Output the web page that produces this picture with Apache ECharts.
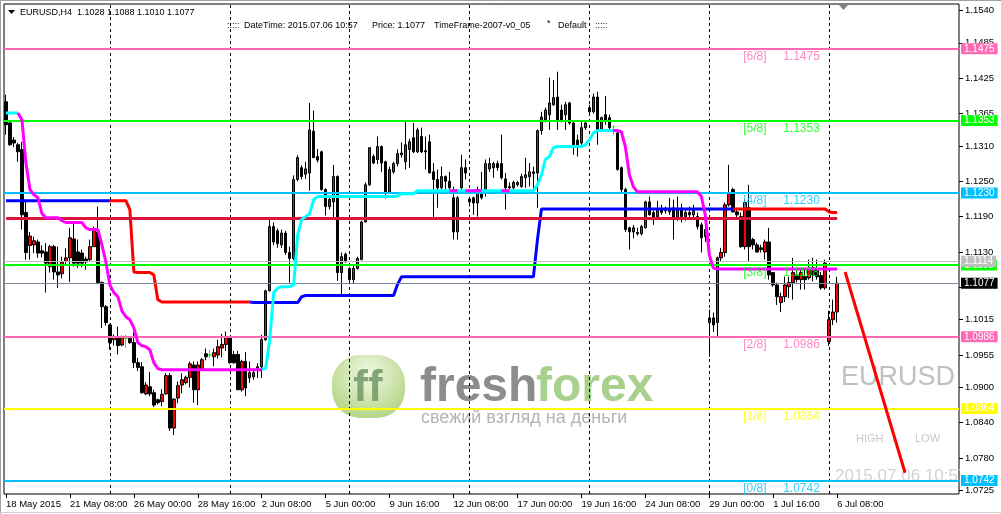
<!DOCTYPE html>
<html><head><meta charset="utf-8">
<script src="https://cdn.jsdelivr.net/npm/echarts@6/dist/echarts.min.js"></script>
<style>html,body{margin:0;padding:0;background:#fff;}#c{width:1001px;height:514px;}</style>
</head><body><div id="c"></div>
<script>
// ---------- DATA ----------
const barOpen = [
1.1385,1.1349,1.1320,1.1312,1.1304,1.1197,1.1141,1.1142,1.1147,1.1132,
1.1130,1.1105,1.1139,1.1096,1.1093,1.1114,1.1120,1.1152,1.1130,1.1128,
1.1118,1.1117,1.1139,1.1164,1.1078,1.1037,1.1006,1.0981,1.0985,1.0972,
1.0983,1.0983,1.0976,1.0942,1.0935,1.0889,1.0901,1.0891,1.0879,1.0876,
1.0889,1.0920,1.0831,1.0882,1.0904,1.0908,1.0917,1.0938,1.0896,1.0930,
1.0957,1.0955,1.0952,1.0955,1.0967,1.0973,1.0984,1.0956,1.0956,1.0896,
1.0944,1.0916,1.0918,1.0933,1.0935,1.0981,1.1064,1.1173,1.1166,1.1142,
1.1162,1.1129,1.1119,1.1253,1.1273,1.1262,1.1264,1.1335,1.1292,1.1300,
1.1236,1.1207,1.1215,1.1258,1.1095,1.1126,1.1102,1.1083,1.1102,1.1117,
1.1181,1.1244,1.1292,1.1287,1.1309,1.1283,1.1232,1.1266,1.1280,1.1295,
1.1283,1.1304,1.1324,1.1300,1.1326,1.1302,1.1317,1.1266,1.1253,1.1239,
1.1258,1.1250,1.1222,1.1164,1.1239,1.1273,1.1220,1.1222,1.1213,1.1236,
1.1236,1.1271,1.1273,1.1280,1.1280,1.1254,1.1239,1.1239,1.1244,1.1241,
1.1256,1.1258,1.1263,1.1264,1.1336,1.1354,1.1363,1.1380,1.1393,1.1371,
1.1363,1.1383,1.1349,1.1320,1.1315,1.1341,1.1375,1.1368,1.1393,1.1337,
1.1363,1.1358,1.1342,1.1332,1.1273,1.1236,1.1171,1.1164,1.1163,1.1161,
1.1171,1.1215,1.1197,1.1190,1.1202,1.1204,1.1198,1.1205,1.1185,1.1204,
1.1190,1.1197,1.1193,1.1190,1.1176,1.1156,1.1010,1.1018,1.1010,1.1120,
1.1129,1.1210,1.1236,1.1198,1.1190,1.1139,1.1205,1.1151,1.1142,1.1137,
1.1130,1.1147,1.1095,1.1074,1.1044,1.1054,1.1071,1.1078,1.1091,1.1083,
1.1088,1.1086,1.1103,1.1100,1.1090,1.1069,1.0978,1.1015,1.1028];
const barHigh = [
1.1397,1.1352,1.1325,1.1315,1.1317,1.1219,1.1164,1.1156,1.1151,1.1141,
1.1145,1.1142,1.1142,1.1139,1.1122,1.1136,1.1171,1.1179,1.1151,1.1134,
1.1122,1.1151,1.1173,1.1207,1.1080,1.1040,1.1008,1.0990,1.1003,1.0988,
1.0989,1.0985,1.0993,1.0950,1.0943,1.0909,1.0926,1.0896,1.0881,1.0897,
1.0924,1.0924,1.0882,1.0910,1.0924,1.0920,1.0944,1.0944,1.0944,1.0950,
1.0966,1.0964,1.0966,1.0981,1.0991,1.0995,1.0987,1.0962,1.0962,1.0947,
1.0960,1.0944,1.0930,1.0941,1.0989,1.1066,1.1187,1.1180,1.1170,1.1168,
1.1166,1.1139,1.1260,1.1294,1.1277,1.1283,1.1383,1.1370,1.1305,1.1302,
1.1238,1.1224,1.1278,1.1260,1.1129,1.1129,1.1104,1.1106,1.1122,1.1183,
1.1248,1.1308,1.1296,1.1326,1.1311,1.1285,1.1275,1.1283,1.1304,1.1316,
1.1354,1.1322,1.1349,1.1341,1.1341,1.1326,1.1329,1.1281,1.1270,1.1275,
1.1260,1.1266,1.1241,1.1225,1.1295,1.1287,1.1224,1.1224,1.1241,1.1266,
1.1287,1.1290,1.1283,1.1285,1.1329,1.1264,1.1248,1.1251,1.1250,1.1263,
1.1290,1.1281,1.1275,1.1338,1.1368,1.1375,1.1426,1.1422,1.1436,1.1380,
1.1385,1.1385,1.1351,1.1329,1.1351,1.1351,1.1380,1.1399,1.1402,1.1360,
1.1395,1.1363,1.1345,1.1336,1.1275,1.1239,1.1173,1.1176,1.1171,1.1176,
1.1217,1.1224,1.1200,1.1217,1.1210,1.1207,1.1222,1.1219,1.1224,1.1212,
1.1204,1.1207,1.1210,1.1197,1.1180,1.1171,1.1032,1.1027,1.1122,1.1137,
1.1214,1.1278,1.1239,1.1205,1.1197,1.1219,1.1244,1.1154,1.1146,1.1142,
1.1151,1.1171,1.1096,1.1078,1.1061,1.1088,1.1088,1.1120,1.1103,1.1103,
1.1100,1.1117,1.1120,1.1117,1.1096,1.1117,1.1030,1.1049,1.1088];
const barLow = [
1.1329,1.1310,1.1308,1.1283,1.1168,1.1117,1.1117,1.1128,1.1120,1.1121,
1.1061,1.1095,1.1083,1.1069,1.1085,1.1109,1.1079,1.1105,1.1103,1.1104,
1.1100,1.1113,1.1139,1.1075,1.1001,1.1005,1.0964,1.0971,1.0956,1.0970,
1.0967,1.0974,1.0933,1.0928,1.0889,1.0887,1.0885,1.0867,1.0871,1.0868,
1.0888,1.0826,1.0819,1.0873,1.0890,1.0905,1.0900,1.0874,1.0870,1.0928,
1.0946,1.0950,1.0936,1.0949,1.0951,1.0962,1.0940,1.0940,1.0896,1.0893,
1.0885,1.0908,1.0913,1.0916,1.0916,1.0979,1.1063,1.1142,1.1137,1.1137,
1.1125,1.1078,1.1116,1.1250,1.1253,1.1254,1.1234,1.1290,1.1282,1.1234,
1.1192,1.1202,1.1185,1.1081,1.1054,1.1112,1.1075,1.1077,1.1100,1.1116,
1.1180,1.1242,1.1279,1.1279,1.1266,1.1221,1.1229,1.1263,1.1275,1.1290,
1.1270,1.1273,1.1298,1.1298,1.1298,1.1270,1.1264,1.1188,1.1205,1.1236,
1.1236,1.1236,1.1151,1.1151,1.1230,1.1253,1.1207,1.1193,1.1190,1.1219,
1.1224,1.1266,1.1256,1.1268,1.1253,1.1202,1.1236,1.1236,1.1241,1.1239,
1.1239,1.1241,1.1236,1.1205,1.1329,1.1350,1.1337,1.1378,1.1337,1.1350,
1.1337,1.1346,1.1295,1.1292,1.1312,1.1337,1.1363,1.1365,1.1312,1.1334,
1.1346,1.1337,1.1329,1.1268,1.1232,1.1164,1.1134,1.1153,1.1158,1.1158,
1.1170,1.1192,1.1176,1.1185,1.1193,1.1195,1.1193,1.1151,1.1183,1.1180,
1.1183,1.1188,1.1185,1.1168,1.1129,1.1147,1.0952,1.0994,1.0985,1.1113,
1.1122,1.1207,1.1197,1.1188,1.1137,1.1134,1.1113,1.1134,1.1129,1.1129,
1.1117,1.1083,1.1071,1.1040,1.1028,1.1045,1.1052,1.1049,1.1078,1.1066,
1.1066,1.1083,1.1080,1.1083,1.1066,1.1066,1.0970,1.1006,1.1010];
const barClose = [
1.1346,1.1312,1.1315,1.1300,1.1193,1.1129,1.1157,1.1149,1.1128,1.1128,
1.1111,1.1139,1.1096,1.1091,1.1113,1.1120,1.1154,1.1111,1.1111,1.1111,
1.1113,1.1139,1.1168,1.1078,1.1037,1.1010,1.0976,1.0986,1.0971,1.0985,
1.0983,1.0976,1.0942,1.0934,1.0891,1.0904,1.0889,1.0870,1.0874,1.0888,
1.0920,1.0831,1.0880,1.0903,1.0913,1.0917,1.0940,1.0896,1.0938,1.0947,
1.0952,1.0955,1.0959,1.0969,1.0973,1.0986,1.0942,1.0942,1.0896,1.0944,
1.0899,1.0925,1.0925,1.0935,1.0981,1.1064,1.1173,1.1147,1.1144,1.1162,
1.1129,1.1119,1.1253,1.1290,1.1258,1.1271,1.1337,1.1290,1.1286,1.1236,
1.1207,1.1219,1.1258,1.1095,1.1122,1.1113,1.1083,1.1102,1.1119,1.1181,
1.1244,1.1307,1.1281,1.1309,1.1281,1.1232,1.1270,1.1280,1.1297,1.1298,
1.1312,1.1317,1.1300,1.1337,1.1300,1.1300,1.1264,1.1253,1.1239,1.1258,
1.1250,1.1239,1.1164,1.1222,1.1273,1.1264,1.1215,1.1213,1.1236,1.1222,
1.1280,1.1280,1.1280,1.1273,1.1256,1.1239,1.1241,1.1248,1.1248,1.1258,
1.1261,1.1266,1.1266,1.1336,1.1359,1.1371,1.1383,1.1392,1.1354,1.1354,
1.1380,1.1349,1.1312,1.1312,1.1341,1.1349,1.1368,1.1393,1.1337,1.1358,
1.1354,1.1341,1.1342,1.1270,1.1236,1.1168,1.1164,1.1171,1.1161,1.1173,
1.1215,1.1193,1.1185,1.1202,1.1197,1.1200,1.1204,1.1185,1.1202,1.1190,
1.1197,1.1193,1.1200,1.1173,1.1154,1.1168,1.1018,1.1006,1.1120,1.1129,
1.1210,1.1229,1.1198,1.1193,1.1139,1.1214,1.1139,1.1142,1.1130,1.1134,
1.1147,1.1091,1.1074,1.1054,1.1054,1.1074,1.1078,1.1095,1.1083,1.1095,
1.1083,1.1100,1.1091,1.1088,1.1069,1.1111,1.1015,1.1028,1.1077];

// trend indicator (magenta while falling, cyan while rising)
const trendLine = [
1.1366,1.1366,1.1366,1.1366,1.1354,1.1280,1.1236,1.1227,1.1222,1.1195,
1.1188,1.1188,1.1188,1.1188,1.1183,1.1180,1.1180,1.1180,1.1180,1.1180,
1.1171,1.1168,1.1168,1.1168,1.1142,1.1113,1.1074,1.1061,1.1054,1.1030,
1.1020,1.1015,1.1001,1.0976,1.0971,1.0969,1.0964,1.0942,1.0932,1.0930,
1.0930,1.0930,1.0930,1.0930,1.0930,1.0930,1.0930,1.0930,1.0930,1.0930,
1.0930,1.0930,1.0930,1.0930,1.0930,1.0930,1.0930,1.0930,1.0930,1.0930,
1.0930,1.0930,1.0930,1.0930,1.0930,1.0933,1.0981,1.1061,1.1069,1.1071,
1.1071,1.1071,1.1074,1.1159,1.1185,1.1190,1.1195,1.1219,1.1224,1.1224,
1.1224,1.1224,1.1224,1.1224,1.1224,1.1224,1.1224,1.1224,1.1224,1.1224,
1.1224,1.1224,1.1224,1.1224,1.1224,1.1224,1.1224,1.1224,1.1225,1.1229,
1.1229,1.1229,1.1229,1.1234,1.1234,1.1234,1.1234,1.1234,1.1234,1.1234,
1.1234,1.1234,1.1234,1.1234,1.1234,1.1234,1.1234,1.1234,1.1234,1.1234,
1.1234,1.1234,1.1234,1.1234,1.1234,1.1234,1.1234,1.1234,1.1234,1.1234,
1.1234,1.1234,1.1234,1.1244,1.1261,1.1287,1.1292,1.1307,1.1309,1.1309,
1.1309,1.1309,1.1309,1.1309,1.1309,1.1312,1.1320,1.1332,1.1336,1.1336,
1.1336,1.1336,1.1336,1.1336,1.1334,1.1309,1.1261,1.1241,1.1232,1.1232,
1.1232,1.1232,1.1232,1.1232,1.1232,1.1232,1.1232,1.1232,1.1232,1.1232,
1.1232,1.1232,1.1232,1.1232,1.1225,1.1193,1.1125,1.1103,1.1101,1.1101,
1.1101,1.1101,1.1101,1.1101,1.1101,1.1101,1.1101,1.1101,1.1101,1.1101,
1.1101,1.1101,1.1101,1.1101,1.1101,1.1101,1.1101,1.1101,1.1101,1.1101,
1.1101,1.1101,1.1101,1.1101,1.1101,1.1101,1.1101,1.1101,1.1101];
const trendUpRuns = [[0,3],[64,152]];
const trendDownRuns = [[3,64],[111,113],[115,119],[124,126],[152,208]];

// step indicator (blue while rising, red while falling)
const stepLine = [
1.1217,1.1217,1.1217,1.1217,1.1217,1.1217,1.1217,1.1217,1.1217,1.1217,
1.1217,1.1217,1.1217,1.1217,1.1217,1.1217,1.1217,1.1217,1.1217,1.1217,
1.1217,1.1217,1.1217,1.1217,1.1217,1.1217,1.1217,1.1217,1.1217,1.1217,
1.1217,1.1202,1.1096,1.1095,1.1095,1.1095,1.1095,1.1091,1.1049,1.1045,
1.1045,1.1045,1.1045,1.1045,1.1045,1.1045,1.1045,1.1045,1.1045,1.1045,
1.1045,1.1045,1.1045,1.1045,1.1045,1.1045,1.1045,1.1045,1.1045,1.1045,
1.1045,1.1045,1.1044,1.1044,1.1044,1.1044,1.1044,1.1044,1.1044,1.1044,
1.1044,1.1044,1.1044,1.1044,1.1054,1.1056,1.1056,1.1056,1.1056,1.1056,
1.1056,1.1056,1.1056,1.1056,1.1056,1.1056,1.1056,1.1056,1.1056,1.1056,
1.1056,1.1056,1.1056,1.1056,1.1056,1.1056,1.1056,1.1056,1.1075,1.1088,
1.1088,1.1088,1.1088,1.1088,1.1088,1.1088,1.1088,1.1088,1.1088,1.1088,
1.1088,1.1088,1.1088,1.1088,1.1088,1.1088,1.1088,1.1088,1.1088,1.1088,
1.1088,1.1088,1.1088,1.1088,1.1088,1.1088,1.1088,1.1088,1.1088,1.1088,
1.1088,1.1088,1.1088,1.1151,1.1203,1.1203,1.1203,1.1203,1.1203,1.1203,
1.1203,1.1203,1.1203,1.1203,1.1203,1.1203,1.1203,1.1203,1.1203,1.1203,
1.1203,1.1203,1.1203,1.1203,1.1203,1.1203,1.1203,1.1203,1.1203,1.1203,
1.1203,1.1203,1.1203,1.1203,1.1203,1.1203,1.1203,1.1203,1.1203,1.1203,
1.1203,1.1203,1.1203,1.1203,1.1203,1.1203,1.1203,1.1203,1.1203,1.1203,
1.1203,1.1203,1.1203,1.1203,1.1203,1.1203,1.1203,1.1203,1.1203,1.1203,
1.1203,1.1203,1.1203,1.1203,1.1203,1.1203,1.1203,1.1203,1.1203,1.1203,
1.1203,1.1203,1.1203,1.1203,1.1203,1.1203,1.1198,1.1197,1.1197];
const stepUpRuns = [[0,26],[61,182]];
const stepDownRuns = [[26,61],[182,208]];

const crimsonLevel = 1.1188;
const projection = [[210, 1.1096], [225, 1.0755]];

const murreyLevels = [1.1475, 1.1353, 1.1230, 1.1108, 1.0986, 1.0864, 1.0742];
const murreyNames  = ['[6/8]','[5/8]','[4/8]','[3/8]','[2/8]','[1/8]','[0/8]'];
const murreyColors = ['#FF69B4','#00FF00','#00BFFF','#00FF00','#FF69B4','#FFFF00','#00BFFF'];
const highLevel = 1.1114;
const lastPrice = 1.1077;

const weekSeparators = [26, 56, 86, 116, 146, 176, 206];
const timeLabels = ['18 May 2015','21 May 08:00','26 May 00:00','28 May 16:00','2 Jun 08:00','5 Jun 00:00',
  '9 Jun 16:00','12 Jun 08:00','17 Jun 00:00','19 Jun 16:00','24 Jun 08:00','29 Jun 00:00','1 Jul 16:00','6 Jul 08:00'];
const timeLabelIdx = [0,16,32,48,64,80,96,112,128,144,160,176,192,208];
const priceTicks = [1.1540,1.1485,1.1425,1.1365,1.1310,1.1250,1.1190,1.1130,1.1070,1.1015,1.0955,1.0900,1.0840,1.0780,1.0725];
const priceLabels = [1.1540,1.1485,1.1425,1.1365,1.1310,1.1250,1.1190,1.1130,1.1015,1.0955,1.0900,1.0840,1.0780,1.0725];

// ---------- BUILD ----------
const SLOTS = 239;
const cats = Array.from({length: SLOTS}, (_, i) => String(i));
const candles = barOpen.map((o, i) => [o, barClose[i], barLow[i], barHigh[i]]);
function pick(values, runs) {
  const out = values.map(() => null);
  runs.forEach(([a, b]) => { for (let i = a; i <= b; i++) out[i] = values[i]; });
  return out;
}
const FONT = 'Liberation Sans, Arial, sans-serif';

const tagLabel = (txt, bg) => ({show: true, position: 'end', distance: 2, formatter: txt,
  backgroundColor: bg, color: '#fff', fontSize: 10, fontFamily: FONT, lineHeight: 10, padding: [1, 3, 0, 3]});

const murreyLines = murreyLevels.map((v, k) => ({
  yAxis: v, lineStyle: {color: murreyColors[k], width: 2, type: 'solid'},
  label: tagLabel(v.toFixed(4), murreyColors[k])
}));
const murreyText = [];
murreyLevels.forEach((v, k) => {
  murreyText.push({value: [184, v], label: {formatter: murreyNames[k], color: murreyColors[k]}});
  murreyText.push({value: [194, v], label: {formatter: v.toFixed(4), color: murreyColors[k]}});
});

const chart = echarts.init(document.getElementById('c'), null, {renderer: 'canvas'});
chart.setOption({
  animation: false,
  backgroundColor: '#fff',
  grid: {left: 4, top: 4, width: 955, height: 490, show: true, borderColor: '#000', borderWidth: 1},
  xAxis: {
    type: 'category', data: cats, boundaryGap: true,
    axisLine: {show: false},
    axisTick: {show: true, alignWithLabel: true, length: 4, interval: (i) => timeLabelIdx.includes(i), lineStyle: {color: '#000'}},
    axisLabel: {interval: (i) => timeLabelIdx.includes(i), formatter: (v, i) => timeLabels[timeLabelIdx.indexOf(i)] || '',
      align: 'left', margin: 5, fontSize: 9.5, fontFamily: FONT, color: '#000'},
    splitLine: {show: false}
  },
  yAxis: {
    type: 'value', position: 'right', min: 1.0719, max: 1.1551,
    splitLine: {show: false}, axisLine: {show: false},
    axisTick: {show: true, customValues: priceTicks, length: 4, lineStyle: {color: '#000'}},
    axisLabel: {customValues: priceLabels, formatter: (v) => v.toFixed(4), fontSize: 9.5, fontFamily: FONT, color: '#000', margin: 6}
  },
  series: [
    {type: 'candlestick', data: candles, barWidth: 3, z: 2, silent: true,
     itemStyle: {color: '#FF0000', color0: '#000000', borderColor: '#000000', borderColor0: '#000000', borderColorDoji: '#00FF00', borderWidth: 1}},
    {type: 'line', data: [], z: 3, silent: true,
     markLine: {silent: true, symbol: ['none', 'none'], animation: false, precision: 4,
       data: [
         ...weekSeparators.map(x => ({xAxis: x, lineStyle: {color: '#000', width: 1, type: [3, 3]}, label: {show: false}})),
         ...murreyLines,
         {yAxis: highLevel, lineStyle: {color: '#C0C0C0', width: 1, type: 'solid'}, label: tagLabel(highLevel.toFixed(4), '#C0C0C0')},
         {yAxis: lastPrice, lineStyle: {color: '#778899', width: 1, type: 'solid'}, label: tagLabel(lastPrice.toFixed(4), '#000000')},
         [{coord: [0, crimsonLevel], lineStyle: {color: '#DC143C', width: 3, type: 'solid'}, label: {show: false}}, {coord: [208, crimsonLevel]}]
       ]}},
    {type: 'line', data: pick(stepLine, stepUpRuns), z: 4, silent: true, symbol: 'none', lineStyle: {color: '#0000FF', width: 3}},
    {type: 'line', data: pick(stepLine, stepDownRuns), z: 4, silent: true, symbol: 'none', lineStyle: {color: '#FF0000', width: 3}},
    {type: 'line', data: pick(trendLine, trendUpRuns), z: 5, silent: true, symbol: 'none', lineStyle: {color: '#00FFFF', width: 3}},
    {type: 'line', data: pick(trendLine, trendDownRuns), z: 5, silent: true, symbol: 'none', lineStyle: {color: '#FF00FF', width: 3}},
    {type: 'line', data: projection, z: 5, silent: true, symbol: 'none', clip: false, lineStyle: {color: '#FF0000', width: 3}},
    {type: 'scatter', data: murreyText, z: 6, silent: true, symbolSize: 0.1, itemStyle: {color: 'rgba(0,0,0,0)'},
     label: {show: true, position: [2, 2], align: 'left', verticalAlign: 'top', fontSize: 12, fontFamily: FONT}}
  ],
  graphic: [
    {type: 'line', shape: {x1: 0.5, y1: 0, x2: 0.5, y2: 514}, style: {stroke: '#a0a0a0', lineWidth: 1}},
    {type: 'line', shape: {x1: 0, y1: 0.5, x2: 1001, y2: 0.5}, style: {stroke: '#a0a0a0', lineWidth: 1}},
    {type: 'line', shape: {x1: 0, y1: 512.5, x2: 1001, y2: 512.5}, style: {stroke: '#d0d0d0', lineWidth: 1}},
    {type: 'polygon', shape: {points: [[8, 10], [15, 10], [11.5, 14]]}, style: {fill: '#000'}},
    {type: 'text', x: 20, y: 13, style: {text: 'EURUSD,H4  1.1028 1.1088 1.1010 1.1077', font: '9px ' + FONT, fill: '#000', verticalAlign: 'middle'}},
    {type: 'text', x: 227, y: 26, style: {text: ':::::', font: '9px ' + FONT, fill: '#000', verticalAlign: 'middle'}},
    {type: 'text', x: 244, y: 26, style: {text: 'DateTime: 2015.07.06 10:57', font: '9px ' + FONT, fill: '#000', verticalAlign: 'middle'}},
    {type: 'text', x: 372, y: 26, style: {text: 'Price: 1.1077', font: '9px ' + FONT, fill: '#000', verticalAlign: 'middle'}},
    {type: 'text', x: 434, y: 26, style: {text: 'TimeFrame-2007-v0_05', font: '9px ' + FONT, fill: '#000', verticalAlign: 'middle'}},
    {type: 'text', x: 547, y: 24, style: {text: '*', font: '9px ' + FONT, fill: '#000', verticalAlign: 'middle'}},
    {type: 'text', x: 558, y: 26, style: {text: 'Default', font: '9px ' + FONT, fill: '#000', verticalAlign: 'middle'}},
    {type: 'text', x: 595, y: 26, style: {text: ':::::', font: '9px ' + FONT, fill: '#000', verticalAlign: 'middle'}},
    {type: 'polygon', shape: {points: [[839, 5], [848, 5], [843.5, 10]]}, style: {fill: '#808080'}},
    // watermark logo
    {type: 'rect', shape: {x: 332, y: 355, width: 73, height: 63, r: 28}, z: 1,
     style: {fill: new echarts.graphic.RadialGradient(0.5, 0.3, 0.75, [{offset: 0, color: '#eef7dc'}, {offset: 1, color: '#98c65a'}]), opacity: 0.75}},
    {type: 'text', x: 368, y: 389, z: 1, style: {text: 'ff', font: 'bold 44px ' + FONT, fill: 'rgba(115,150,105,0.85)', align: 'center', verticalAlign: 'middle'}},
    {type: 'text', x: 420, y: 388, z: 1, style: {text: 'fresh', font: 'bold 48px ' + FONT, fill: 'rgba(128,128,128,0.9)', verticalAlign: 'middle'}},
    {type: 'text', x: 536, y: 388, z: 1, style: {text: 'forex', font: 'bold 48px ' + FONT, fill: 'rgba(160,204,130,0.9)', verticalAlign: 'middle'}},
    {type: 'text', x: 421, y: 418, z: 1, style: {text: 'свежий взгляд на деньги', font: '18px ' + FONT, fill: '#b4b4b4', verticalAlign: 'middle'}},
    {type: 'text', x: 841, y: 378, z: 1, style: {text: 'EURUSD', font: '27px ' + FONT, fill: '#c0c0c0', verticalAlign: 'middle'}},
    {type: 'text', x: 856, y: 439, z: 1, style: {text: 'HIGH', font: '11px ' + FONT, fill: '#c8c8c8', verticalAlign: 'middle'}},
    {type: 'text', x: 915, y: 439, z: 1, style: {text: 'LOW', font: '11px ' + FONT, fill: '#c8c8c8', verticalAlign: 'middle'}},
    {type: 'text', x: 835, y: 476, z: 1, style: {text: '2015.07.06 10:57', font: '17px ' + FONT, fill: '#d3d3d3', verticalAlign: 'middle'}},
    {type: 'rect', shape: {x: 960, y: 462, width: 41, height: 13}, z: 2, style: {fill: '#fff'}}
  ]
});
</script></body></html>
